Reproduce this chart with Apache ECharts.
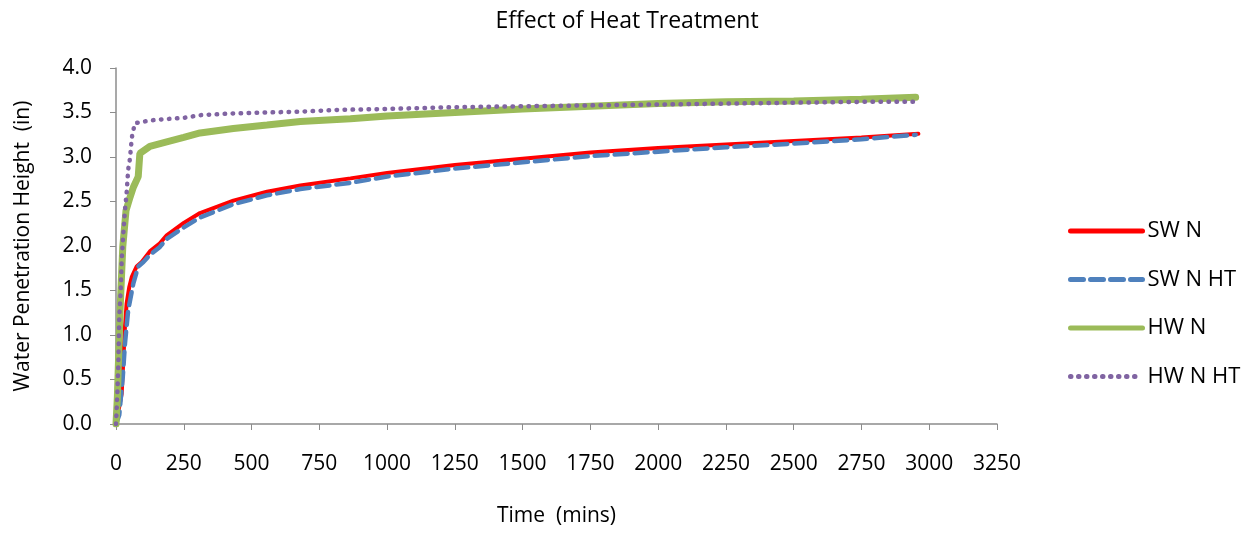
<!DOCTYPE html>
<html>
<head>
<meta charset="utf-8">
<script src="https://cdn.jsdelivr.net/npm/echarts@6/dist/echarts.min.js"></script>
<style>
html,body{margin:0;padding:0;background:#fff;}
#chart{width:1254px;height:533px;}
</style>
</head>
<body>
<div id="chart"></div>
<script>
const titleText = 'Effect of Heat Treatment';
const xAxisName = 'Time  (mins)';
const yAxisName = 'Water Penetration Height  (in)';
const seriesNames = ['SW N', 'SW N HT', 'HW N', 'HW N HT'];

const swNTime = [0, 21, 27, 33, 39, 49, 58, 76, 95, 125, 162, 187, 250, 310, 433, 557, 680, 865, 1000, 1250, 1500, 1750, 2000, 2250, 2500, 2750, 2960];
const swNVal  = [0, 0.34, 0.72, 1.09, 1.35, 1.54, 1.65, 1.77, 1.82, 1.94, 2.03, 2.12, 2.26, 2.37, 2.51, 2.61, 2.68, 2.76, 2.82, 2.91, 2.98, 3.05, 3.10, 3.14, 3.18, 3.22, 3.26];

const swNHTTime = [0, 12, 25, 33, 45, 64, 82, 101, 125, 162, 187, 250, 310, 433, 557, 680, 865, 1000, 1250, 1500, 1750, 2000, 2250, 2500, 2750, 2950];
const swNHTVal  = [0, 0.10, 0.53, 0.90, 1.28, 1.58, 1.77, 1.82, 1.90, 1.99, 2.08, 2.21, 2.32, 2.47, 2.57, 2.64, 2.71, 2.78, 2.87, 2.94, 3.01, 3.06, 3.11, 3.15, 3.20, 3.25];

const hwNTime = [0, 5, 15, 25, 37, 52, 64, 82, 88, 125, 187, 250, 310, 433, 557, 680, 865, 1000, 1250, 1500, 1750, 2000, 2250, 2500, 2750, 2950];
const hwNVal  = [0, 0.30, 1.28, 1.99, 2.40, 2.55, 2.66, 2.78, 3.04, 3.12, 3.17, 3.22, 3.27, 3.32, 3.36, 3.40, 3.43, 3.46, 3.50, 3.54, 3.57, 3.60, 3.62, 3.63, 3.65, 3.67];

const hwNHTTime = [0, 5, 9, 12, 17, 21, 27, 33, 39, 45, 52, 55, 60, 70, 88, 125, 156, 250, 310, 433, 557, 680, 826, 1000, 1250, 1500, 1750, 2000, 2250, 2500, 2750, 2940];
const hwNHTVal  = [0, 0.34, 0.72, 1.20, 1.47, 1.84, 2.14, 2.40, 2.59, 2.86, 2.99, 3.11, 3.25, 3.38, 3.39, 3.41, 3.42, 3.44, 3.47, 3.49, 3.50, 3.51, 3.53, 3.54, 3.56, 3.57, 3.58, 3.59, 3.60, 3.61, 3.62, 3.62];

function pairs(t, v) { return t.map((x, i) => [x, v[i]]); }

const FONT = '"Open Sans", Lato, sans-serif';
const chart = echarts.init(document.getElementById('chart'));
chart.setOption({
  animation: false,
  backgroundColor: '#fff',
  title: {
    text: titleText, left: 'center', top: 5,
    textStyle: { fontFamily: FONT, fontSize: 23, fontWeight: 'normal', color: '#000' }
  },
  legend: {
    orient: 'vertical', left: 1063, top: 213,
    itemWidth: 72, itemHeight: 14, itemGap: 22.5,
    itemStyle: { opacity: 0 },
    lineStyle: { width: 5 },
    textStyle: { fontFamily: FONT, fontSize: 22, lineHeight: 26, color: '#000' },
    data: seriesNames
  },
  grid: { left: 116, right: 257, top: 68, bottom: 109, containLabel: false },
  xAxis: {
    type: 'value', min: 0, max: 3250, interval: 250,
    name: xAxisName, nameLocation: 'middle', nameGap: 82,
    nameTextStyle: { fontFamily: FONT, fontSize: 21, color: '#000' },
    axisLine: { show: true, lineStyle: { color: '#8c8c8c', width: 1.5 } },
    axisTick: { show: true, length: 6, lineStyle: { color: '#8c8c8c' } },
    axisLabel: { fontFamily: FONT, fontSize: 21, color: '#000', margin: 30,
      formatter: v => String(v) },
    splitLine: { show: false }
  },
  yAxis: {
    type: 'value', min: 0, max: 4, interval: 0.5,
    name: yAxisName, nameLocation: 'middle', nameGap: 82,
    nameTextStyle: { fontFamily: FONT, fontSize: 21, color: '#000' },
    axisLine: { show: true, lineStyle: { color: '#8c8c8c', width: 1.5 } },
    axisTick: { show: true, length: 6, lineStyle: { color: '#8c8c8c' } },
    axisLabel: { fontFamily: FONT, fontSize: 21, color: '#000', margin: 24,
      formatter: v => v.toFixed(1) },
    splitLine: { show: false }
  },
  series: [
    { name: seriesNames[0], type: 'line', data: pairs(swNTime, swNVal), symbol: 'none',
      lineStyle: { color: '#ff0000', width: 4, cap: 'round' }, itemStyle: { color: '#ff0000' } },
    { name: seriesNames[1], type: 'line', data: pairs(swNHTTime, swNHTVal), symbol: 'none',
      lineStyle: { color: '#4f81bd', width: 4.5, type: [13, 7], cap: 'round' }, itemStyle: { color: '#4f81bd' } },
    { name: seriesNames[2], type: 'line', data: pairs(hwNTime, hwNVal), symbol: 'none',
      lineStyle: { color: '#9bbb59', width: 7, cap: 'round' }, itemStyle: { color: '#9bbb59' } },
    { name: seriesNames[3], type: 'line', data: pairs(hwNHTTime, hwNHTVal), symbol: 'none',
      lineStyle: { color: '#8064a2', width: 4.5, type: [0.5, 7.5], cap: 'round' }, itemStyle: { color: '#8064a2' } }
  ]
});
</script>
</body>
</html>
